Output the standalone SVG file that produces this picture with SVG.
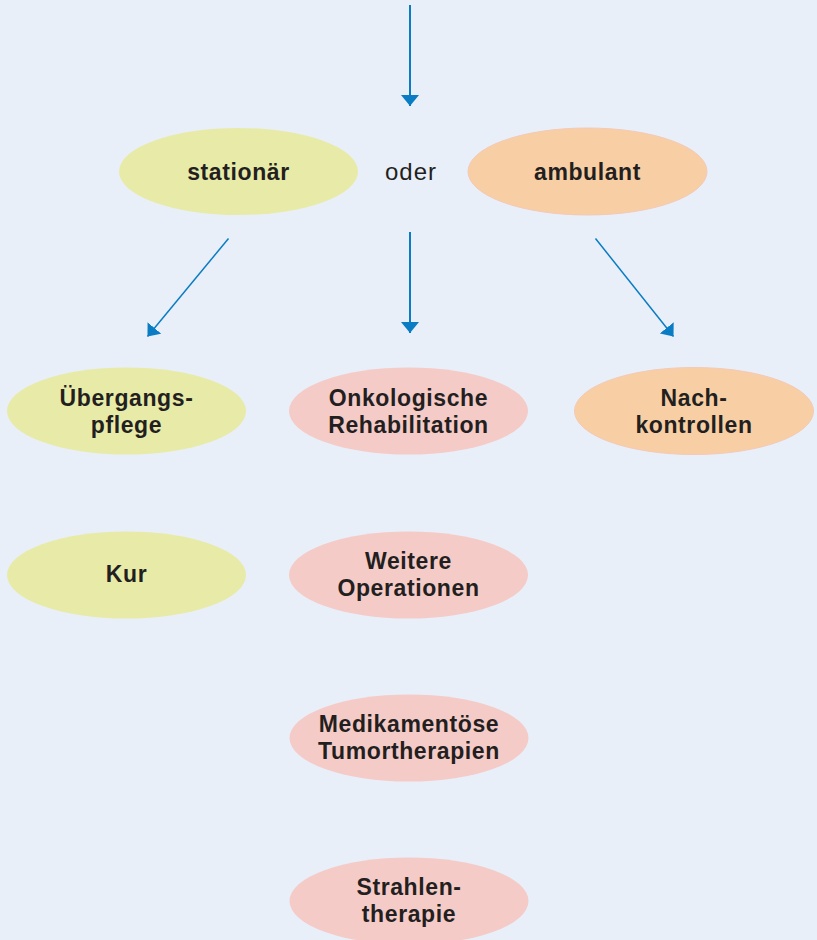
<svg xmlns="http://www.w3.org/2000/svg" width="817" height="940" viewBox="0 0 817 940">
<defs>
<style>
.bg{fill:#e8eff9}
.y{fill:#e8eba8}
.o{fill:#f8cfa5;stroke:#f5c9b6;stroke-width:1}
.p{fill:#f5cbc8}
.t{font-family:"Liberation Sans",Arial,sans-serif;font-weight:bold;font-size:23px;fill:#231f20;text-anchor:middle;letter-spacing:0.6px}
.r{font-family:"Liberation Sans",Arial,sans-serif;font-size:24px;fill:#231f20;text-anchor:middle;letter-spacing:1px}
.c{stroke:#0a7cc4;fill:none}
</style>
<marker id="ah" markerUnits="userSpaceOnUse" markerWidth="12" markerHeight="18" refX="11" refY="9" orient="auto" viewBox="0 0 12 18">
<path d="M0,0 L11,9 L0,18 z" fill="#0a7cc4"/>
</marker>
</defs>
<rect class="bg" x="0" y="0" width="817" height="940"/>
<g id="connectors">
<line class="c" x1="410" y1="5" x2="410" y2="106" stroke-width="2" marker-end="url(#ah)"/>
<line class="c" x1="228.5" y1="238.5" x2="147.5" y2="336.5" stroke-width="1.5" marker-end="url(#ah)"/>
<line class="c" x1="410" y1="232" x2="410" y2="333" stroke-width="2" marker-end="url(#ah)"/>
<line class="c" x1="595.5" y1="238.5" x2="673.5" y2="336.5" stroke-width="1.5" marker-end="url(#ah)"/>
</g>
<g id="stationaer">
<ellipse class="y" cx="238.5" cy="171.5" rx="119.5" ry="43.5"/>
<text class="t" x="238.5" y="179.5">stationär</text>
</g>
<g id="oder">
<text class="r" x="411" y="180">oder</text>
</g>
<g id="ambulant">
<ellipse class="o" cx="587.5" cy="171.5" rx="119.5" ry="43.5"/>
<text class="t" x="587.5" y="179.5">ambulant</text>
</g>
<g id="uebergangspflege">
<ellipse class="y" cx="126.5" cy="411" rx="119.5" ry="43.5"/>
<text class="t" x="126.5" y="405.5">Übergangs-</text>
<text class="t" x="126.5" y="432.5">pflege</text>
</g>
<g id="onkologische">
<ellipse class="p" cx="408.5" cy="411" rx="119.5" ry="43.5"/>
<text class="t" x="408.5" y="405.5">Onkologische</text>
<text class="t" x="408.5" y="432.5">Rehabilitation</text>
</g>
<g id="nachkontrollen">
<ellipse class="o" cx="694" cy="411" rx="119.5" ry="43.5"/>
<text class="t" x="694" y="405.5">Nach-</text>
<text class="t" x="694" y="432.5">kontrollen</text>
</g>
<g id="kur">
<ellipse class="y" cx="126.5" cy="575" rx="119.5" ry="43.5"/>
<text class="t" x="126.5" y="582">Kur</text>
</g>
<g id="weitere">
<ellipse class="p" cx="408.5" cy="575" rx="119.5" ry="43.5"/>
<text class="t" x="408.5" y="569">Weitere</text>
<text class="t" x="408.5" y="596">Operationen</text>
</g>
<g id="medikamentoese">
<ellipse class="p" cx="409" cy="738" rx="119.5" ry="43.5"/>
<text class="t" x="409" y="732">Medikamentöse</text>
<text class="t" x="409" y="759">Tumortherapien</text>
</g>
<g id="strahlentherapie">
<ellipse class="p" cx="409" cy="901" rx="119.5" ry="43.5"/>
<text class="t" x="409" y="895">Strahlen-</text>
<text class="t" x="409" y="922">therapie</text>
</g>
</svg>
